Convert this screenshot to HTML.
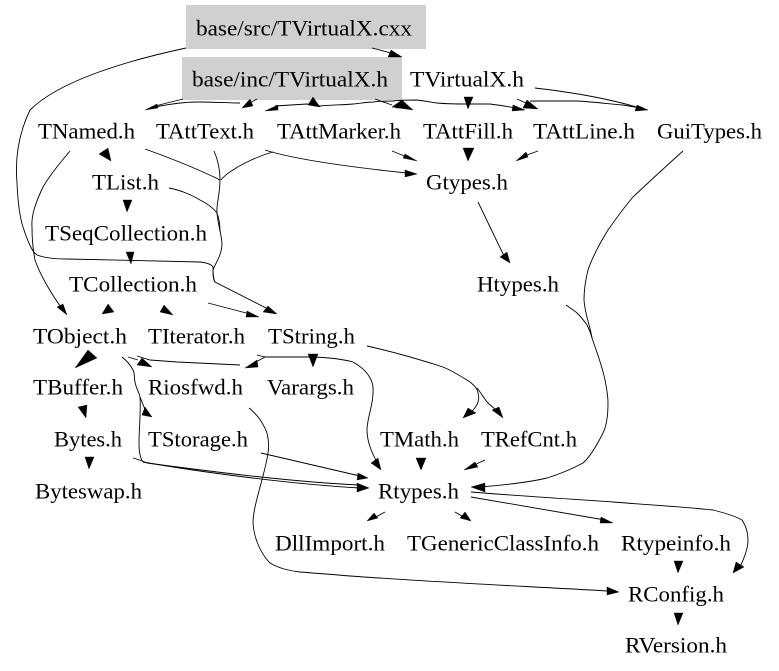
<!DOCTYPE html>
<html><head><meta charset="utf-8"><style>
html,body{margin:0;padding:0;background:#fff}
svg{display:block}
text{font-family:"Liberation Serif",serif;font-size:22px;fill:#000;transform:translateY(.5px)}
path{fill:none;stroke:#000;stroke-width:.9}
polygon{fill:#000;stroke:#000;stroke-width:.4}
</style></head><body>
<svg width="779" height="671" viewBox="0 0 779 671" xmlns="http://www.w3.org/2000/svg">
<rect width="779" height="671" fill="#fff"/>
<rect x="186" y="5" width="240" height="44" fill="#d0d0d0"/>
<rect x="182" y="57" width="220" height="43" fill="#d0d0d0"/>
<text x="196" y="35" textLength="216" lengthAdjust="spacingAndGlyphs">base/src/TVirtualX.cxx</text>
<text x="192" y="86" textLength="196" lengthAdjust="spacingAndGlyphs">base/inc/TVirtualX.h</text>
<text x="410" y="86" textLength="114" lengthAdjust="spacingAndGlyphs">TVirtualX.h</text>
<text x="38" y="138" textLength="97" lengthAdjust="spacingAndGlyphs">TNamed.h</text>
<text x="156" y="138" textLength="98" lengthAdjust="spacingAndGlyphs">TAttText.h</text>
<text x="277" y="138" textLength="124" lengthAdjust="spacingAndGlyphs">TAttMarker.h</text>
<text x="423" y="138" textLength="90" lengthAdjust="spacingAndGlyphs">TAttFill.h</text>
<text x="533" y="138" textLength="102" lengthAdjust="spacingAndGlyphs">TAttLine.h</text>
<text x="657" y="138" textLength="105" lengthAdjust="spacingAndGlyphs">GuiTypes.h</text>
<text x="92" y="189" textLength="67" lengthAdjust="spacingAndGlyphs">TList.h</text>
<text x="426" y="189" textLength="82" lengthAdjust="spacingAndGlyphs">Gtypes.h</text>
<text x="45" y="240" textLength="162" lengthAdjust="spacingAndGlyphs">TSeqCollection.h</text>
<text x="69" y="291" textLength="128" lengthAdjust="spacingAndGlyphs">TCollection.h</text>
<text x="477" y="291" textLength="82" lengthAdjust="spacingAndGlyphs">Htypes.h</text>
<text x="33" y="343" textLength="94" lengthAdjust="spacingAndGlyphs">TObject.h</text>
<text x="148" y="343" textLength="97" lengthAdjust="spacingAndGlyphs">TIterator.h</text>
<text x="268" y="343" textLength="87" lengthAdjust="spacingAndGlyphs">TString.h</text>
<text x="33" y="394" textLength="90" lengthAdjust="spacingAndGlyphs">TBuffer.h</text>
<text x="148" y="394" textLength="95" lengthAdjust="spacingAndGlyphs">Riosfwd.h</text>
<text x="267" y="394" textLength="87" lengthAdjust="spacingAndGlyphs">Varargs.h</text>
<text x="54" y="446" textLength="68" lengthAdjust="spacingAndGlyphs">Bytes.h</text>
<text x="148" y="446" textLength="100" lengthAdjust="spacingAndGlyphs">TStorage.h</text>
<text x="380" y="446" textLength="79" lengthAdjust="spacingAndGlyphs">TMath.h</text>
<text x="481" y="446" textLength="96" lengthAdjust="spacingAndGlyphs">TRefCnt.h</text>
<text x="35" y="498" textLength="107" lengthAdjust="spacingAndGlyphs">Byteswap.h</text>
<text x="378" y="498" textLength="81" lengthAdjust="spacingAndGlyphs">Rtypes.h</text>
<text x="275" y="550" textLength="110" lengthAdjust="spacingAndGlyphs">DllImport.h</text>
<text x="407" y="550" textLength="192" lengthAdjust="spacingAndGlyphs">TGenericClassInfo.h</text>
<text x="621" y="550" textLength="110" lengthAdjust="spacingAndGlyphs">Rtypeinfo.h</text>
<text x="628" y="601" textLength="96" lengthAdjust="spacingAndGlyphs">RConfig.h</text>
<text x="625" y="652" textLength="102" lengthAdjust="spacingAndGlyphs">RVersion.h</text>
<!-- connectors -->
<path d="M372 48L395 54"/>
<path d="M186 48C130 60 60 80 30 110C18 135 15 160 17 183C18 205 20 218 23 227C28 242 32 252 37 255C45 258 55 259 67 259C110 260 160 261 200 262C208 263 212 265 213 267C213 272 213 278 215 282L270 310"/>
<path d="M183 99L155 106"/>
<path d="M155 107C170 104 185 102 197 102C215 102 228 103 240 103"/>
<path d="M257 99L246 105"/>
<path d="M275 106L307 104L320 106C330 105 342 105 353 104C362 103 368 102 373 102C380 101 386 101 393 101C400 100 410 100 417 100C425 101 430 102 437 103C448 104 458 104 467 104C475 104 482 104 490 104C498 105 506 106 515 108"/>
<path d="M375 99L392 105"/>
<path d="M517 99L528 104"/>
<path d="M530 101C545 101 562 101 577 101C595 102 610 104 623 105C630 106 634 107 640 108"/>
<path d="M535 88C570 92 610 99 640 108"/>
<path d="M145 149C170 158 200 170 220 180"/>
<path d="M214 151C218 160 220 170 220 180C220 195 216 205 217 213C218 225 221 232 222 243C222 255 216 262 213 270C213 275 213 279 215 282"/>
<path d="M273 152C258 156 240 165 233 170C228 173 224 176 221 180"/>
<path d="M169 188C180 190 192 195 200 200C208 204 214 209 217 213C219 218 220 225 220 232"/>
<path d="M392 151L407 157"/>
<path d="M265 150C290 158 340 166 407 173"/>
<path d="M538 151L524 156"/>
<path d="M478 202L505 258"/>
<path d="M70 151C60 163 50 175 43 187C36 202 31 215 32 227C32 240 33 250 35 260C40 275 52 295 63 310"/>
<path d="M208 303L250 314"/>
<path d="M683 151C665 167 648 183 633 197C622 210 615 220 608 230C600 243 592 258 588 270C585 282 584 290 584 300C585 315 590 325 592 338C596 350 602 365 605 380C607 390 608 396 608 403C608 415 607 425 603 433C597 445 590 457 583 463C570 470 560 474 547 478C530 482 505 485 480 487"/>
<path d="M566 305C570 308 574 310 577 313C581 317 585 322 587 325C589 329 591 334 592 338"/>
<path d="M122 357C127 361 131 366 133 370C135 374 134 378 135 382C136 388 139 392 140 397C141 412 139 430 139 443C139 450 140 458 143 462"/>
<path d="M140 397L146 412"/>
<path d="M128 357L138 360"/>
<path d="M137 356L150 360L177 362L240 365"/>
<path d="M257 355L265 357L252 364"/>
<path d="M265 357C280 357 295 357 310 357C325 357 342 359 353 362C360 366 367 372 370 378C373 383 373 386 373 388C374 403 367 418 367 430C367 443 373 455 378 464"/>
<path d="M133 458C140 460 145 462 147 463C200 470 290 482 360 485"/>
<path d="M143 462C200 472 290 484 360 488"/>
<path d="M261 453L360 476"/>
<path d="M249 408C258 415 264 425 267 433C269 442 269 448 268 453C265 475 253 505 253 523C254 540 262 555 270 563C278 568 290 571 300 572C340 575 360 577 380 578C450 583 540 587 608 591"/>
<path d="M367 346C385 350 415 358 443 367C453 371 462 377 470 382C475 386 478 390 478 393C479 396 479 399 478 402C477 406 472 412 468 415"/>
<path d="M477 388C481 393 484 398 487 402C490 405 494 408 498 412"/>
<path d="M485 460L470 467"/>
<path d="M385 512L372 519"/>
<path d="M455 512L467 519"/>
<path d="M471 497L605 520"/>
<path d="M471 492C520 496 570 499 613 502C650 505 685 507 713 510C725 513 735 516 742 520C746 526 748 532 748 540C748 548 745 556 740 567"/>
<!-- arrowheads -->
<polygon points="402,57 391,50 388,57"/>
<polygon points="145,110 157,104 158,108"/>
<polygon points="242,108 250,99 253,106"/>
<polygon points="265,111 278,105 278,110"/>
<polygon points="313,97 308,105 320,107"/>
<polygon points="392,107 402,100 413,110"/>
<polygon points="396,108 402,100 408,108"/>
<polygon points="464,97 473,97 468,109"/>
<polygon points="525,110 513,105 512,111"/>
<polygon points="523,108 527,100 538,109"/>
<polygon points="648,110 637,105 635,111"/>
<polygon points="99,154 108,148 111,161"/>
<polygon points="417,161 405,154 403,158"/>
<polygon points="417,174 405,170 405,177"/>
<polygon points="463,148 474,148 468,161"/>
<polygon points="516,161 526,152 528,157"/>
<polygon points="510,263 500,257 507,252"/>
<polygon points="123,200 132,200 127,212"/>
<polygon points="126,252 134,252 131,264"/>
<polygon points="67,315 57,307 63,304"/>
<polygon points="102,314 108,304 114,312"/>
<polygon points="173,315 160,312 164,305"/>
<polygon points="259,317 247,311 246,317"/>
<polygon points="277,314 263,312 268,306"/>
<polygon points="471,487 485,483 485,492"/>
<polygon points="75,368 88,350 97,358"/>
<polygon points="152,417 142,415 145,407"/>
<polygon points="152,367 137,365 142,358"/>
<polygon points="245,368 257,360 258,367"/>
<polygon points="308,354 318,354 313,367"/>
<polygon points="381,470 371,463 378,458"/>
<polygon points="368,478 358,473 357,480"/>
<polygon points="369,488 357,483 357,492"/>
<polygon points="78,407 87,405 86,418"/>
<polygon points="85,457 94,457 89,469"/>
<polygon points="619,592 607,587 607,595"/>
<polygon points="463,418 468,408 476,413"/>
<polygon points="503,418 492,410 499,407"/>
<polygon points="416,458 426,458 421,470"/>
<polygon points="464,470 475,462 478,467"/>
<polygon points="367,521 374,513 378,518"/>
<polygon points="471,521 460,518 465,512"/>
<polygon points="613,523 601,517 600,523"/>
<polygon points="733,573 736,562 744,567"/>
<polygon points="674,561 683,561 678,573"/>
<polygon points="674,613 683,613 678,625"/>
</svg>
</body></html>
